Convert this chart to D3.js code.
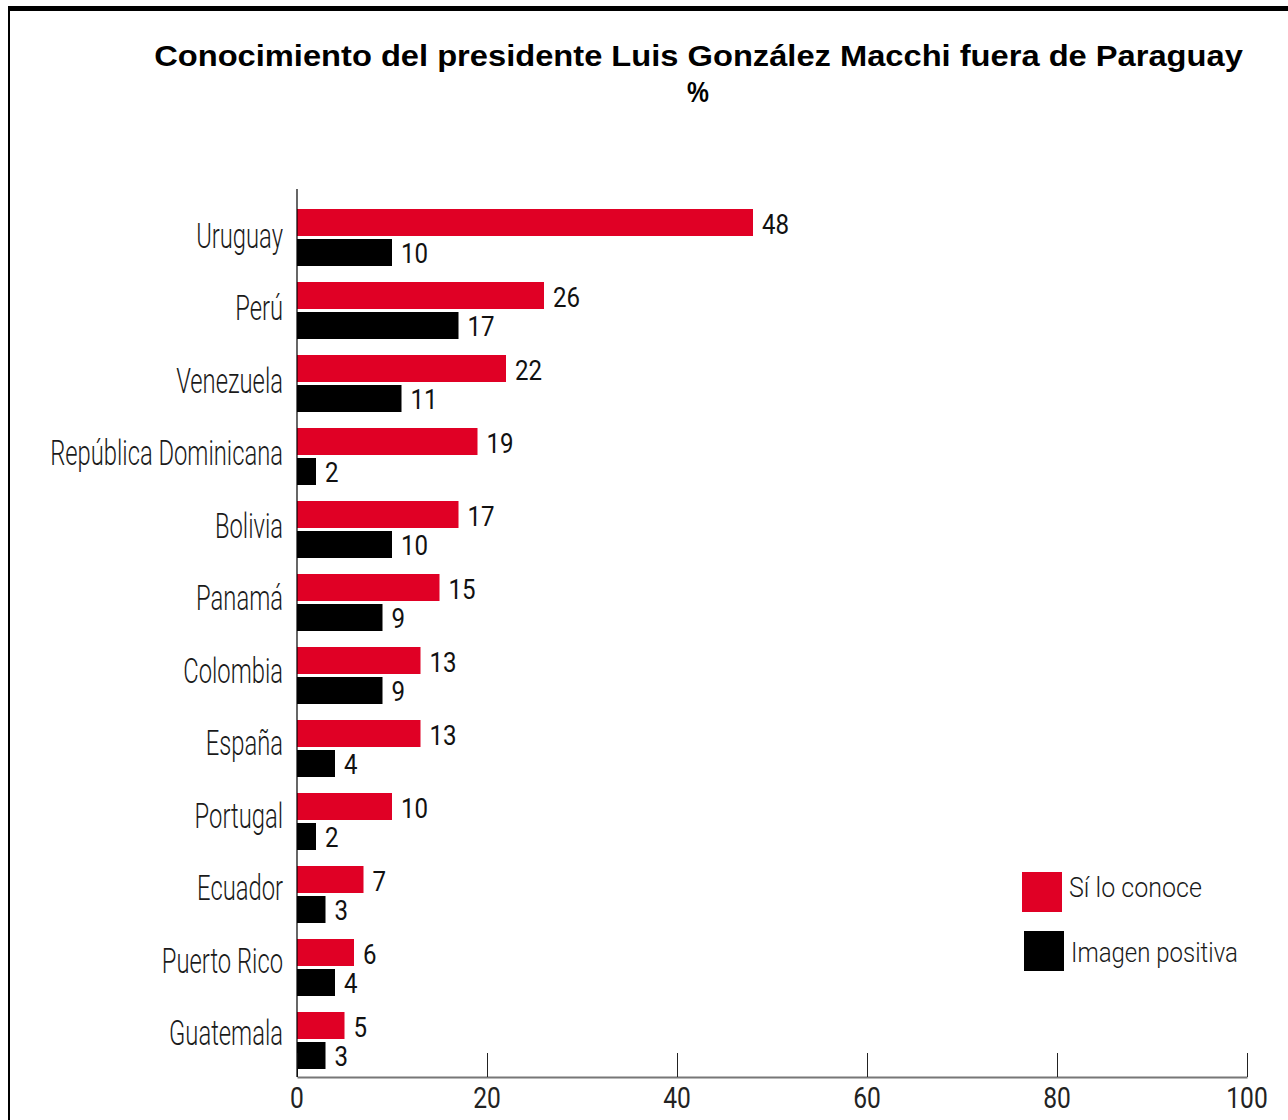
<!DOCTYPE html>
<html><head><meta charset="utf-8">
<script src="https://cdn.jsdelivr.net/npm/d3@7"></script>
<style>
html,body{margin:0;padding:0;background:#fff;}
svg{display:block;}
</style></head>
<body>
<script>
const categories = ["Uruguay","Perú","Venezuela","República Dominicana","Bolivia","Panamá","Colombia","España","Portugal","Ecuador","Puerto Rico","Guatemala"];
const conoce = [48,26,22,19,17,15,13,13,10,7,6,5];
const positiva = [10,17,11,2,10,9,9,4,2,3,4,3];
const seriesNames = ["Sí lo conoce","Imagen positiva"];
const seriesColors = ["#e00025","#000000"];
const tickValues = [0,20,40,60,80,100];
const titleText = "Conocimiento del presidente Luis González Macchi fuera de Paraguay";
const subtitleText = "%";

const W = 1288, H = 1120;
const svg = d3.select("body").append("svg").attr("width", W).attr("height", H);

// frame
svg.append("rect").attr("x", 8).attr("y", 6).attr("width", W - 8).attr("height", 5).attr("fill", "#000");
svg.append("rect").attr("x", 8).attr("y", 6).attr("width", 2).attr("height", H - 6).attr("fill", "#000");

const x = d3.scaleLinear().domain([0, 100]).range([297, 1247]);
const y0 = d3.scaleBand().domain(categories).range([209, 1069]).paddingInner(16/73).paddingOuter(0);
const y1 = d3.scaleBand().domain(seriesNames).range([0, y0.bandwidth()]).paddingInner(0.1).paddingOuter(0);
// category label baselines
const yLab = d3.scalePoint().domain(categories).range([248, 1045]);

function measure(str, font, weight, size) {
  const t = svg.append("text").attr("font-family", font).attr("font-weight", weight)
    .attr("font-size", size).text(str);
  const w = t.node().getComputedTextLength();
  t.remove();
  return w;
}
function scaledText(parent, px, py, str, o) {
  const g = parent.append("g").attr("transform", `translate(${px},${py}) scale(${o.sx},1)`);
  g.append("text").attr("x", 0).attr("y", 0)
    .attr("text-anchor", o.anchor || "start")
    .attr("font-family", o.font).attr("font-weight", o.weight)
    .attr("font-size", o.size).attr("fill", o.fill || "#111").text(str);
  return g;
}

// title
const titleFont = "Liberation Sans, Arial, sans-serif";
const tw = measure(titleText, titleFont, 700, 29);
scaledText(svg, 698.5, 66, titleText, {sx: 1089 / tw, anchor: "middle", font: titleFont, weight: 700, size: 29, fill: "#000"});
scaledText(svg, 698, 102, subtitleText, {sx: 0.85, anchor: "middle", font: titleFont, weight: 700, size: 29, fill: "#000"});

// category labels
const labFont = "Roboto, sans-serif";
const labSize = 35;
const rdW = measure("República Dominicana", labFont, 300, labSize);
const labSx = 233 / rdW;
categories.forEach(c => {
  scaledText(svg, 283, yLab(c), c, {sx: labSx, anchor: "end", font: labFont, weight: 300, size: labSize, fill: "#1a1a1a"});
});

// bars
const rows = categories.map((c, i) => ({cat: c, vals: [conoce[i], positiva[i]]}));
const grp = svg.append("g").selectAll("g").data(rows).join("g")
  .attr("transform", d => `translate(0,${y0(d.cat)})`);
grp.selectAll("rect").data(d => d.vals.map((v, j) => ({v, s: seriesNames[j], j}))).join("rect")
  .attr("x", x(0)).attr("y", d => y1(d.s))
  .attr("width", d => x(d.v) - x(0)).attr("height", y1.bandwidth())
  .attr("fill", d => seriesColors[d.j]);

// value labels
const numFont = "Roboto, sans-serif";
rows.forEach(r => {
  r.vals.forEach((v, j) => {
    scaledText(svg, x(v) + 9, y0(r.cat) + y1(seriesNames[j]) + y1.bandwidth() / 2 + 10 + (j === 0 ? 1 : 0), String(v),
      {sx: 0.86, anchor: "start", font: numFont, weight: 400, size: 28, fill: "#111"});
  });
});

// x axis
const axisY = 1077;
const ax = svg.append("g").attr("transform", `translate(0,${axisY})`)
  .call(d3.axisBottom(x).tickValues(tickValues).tickSizeInner(-24).tickSizeOuter(0).tickFormat(() => ""));
ax.select(".domain").attr("stroke", "#777").attr("stroke-width", 2);
ax.selectAll(".tick line").attr("stroke", "#222").attr("stroke-width", 1);
tickValues.forEach(t => {
  scaledText(svg, x(t), 1108, String(t), {sx: 0.82, anchor: "middle", font: numFont, weight: 400, size: 30, fill: "#222"});
});

// y axis line
svg.append("line").attr("x1", x(0)).attr("x2", x(0)).attr("y1", 189).attr("y2", axisY)
  .attr("stroke", "#000").attr("stroke-width", 1.2);

// legend
const legFont = "Roboto, sans-serif";
const legItems = [
  {name: seriesNames[0], color: seriesColors[0], rx: 1022, ry: 872, tx: 1069, ty: 897, w: 133},
  {name: seriesNames[1], color: seriesColors[1], rx: 1024, ry: 931, tx: 1071, ty: 962, w: 167}
];
legItems.forEach(l => {
  svg.append("rect").attr("x", l.rx).attr("y", l.ry).attr("width", 40).attr("height", 40).attr("fill", l.color);
  const nw = measure(l.name, legFont, 300, 27);
  scaledText(svg, l.tx, l.ty, l.name, {sx: l.w / nw, anchor: "start", font: legFont, weight: 300, size: 27, fill: "#1a1a1a"});
});
</script>
</body></html>
